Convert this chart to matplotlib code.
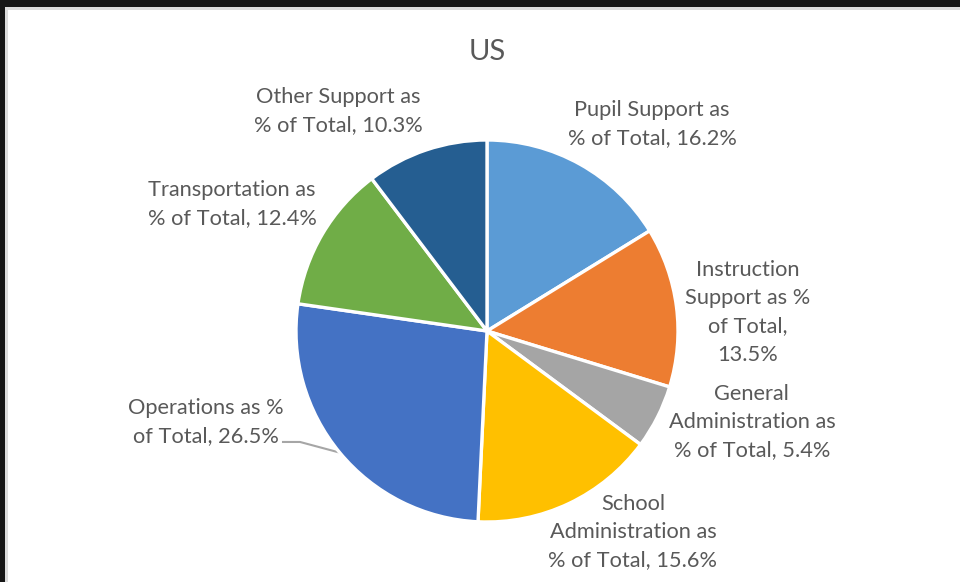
import matplotlib
matplotlib.use("Agg")
import matplotlib.pyplot as plt
from matplotlib.patches import Rectangle
import numpy as np

title = "US"
categories = ["Pupil Support", "Instruction Support", "General Administration",
              "School Administration", "Operations", "Transportation", "Other Support"]
values = [16.2, 13.5, 5.4, 15.6, 26.5, 12.4, 10.3]
label_texts = [
    "Pupil Support as\n% of Total, 16.2%",
    "Instruction\nSupport as %\nof Total,\n13.5%",
    "General\nAdministration as\n% of Total, 5.4%",
    "School\nAdministration as\n% of Total, 15.6%",
    "Operations as %\nof Total, 26.5%",
    "Transportation as\n% of Total, 12.4%",
    "Other Support as\n% of Total, 10.3%",
]
colors = ["#5B9BD5", "#ED7D31", "#A5A5A5", "#FFC000", "#4472C4", "#70AD47", "#255E91"]
# label positions (in units of pie radius, relative to centre)
label_pos = [(0.864, 1.084), (1.366, 0.099), (1.387, -0.476), (0.764, -1.052),
             (-1.471, -0.476), (-1.335, 0.665), (-0.780, 1.152)]

W, H = 960, 582
fig = plt.figure(figsize=(W / 100, H / 100), dpi=100, facecolor="#161616")
plt.rcParams['font.family'] = ['Lato', 'DejaVu Sans']

# white chart panel
fig.patches.append(Rectangle((5 / W, 0), 1, (H - 7) / H, transform=fig.transFigure,
                             facecolor="#dcdcdc", edgecolor="none", zorder=-2))
fig.patches.append(Rectangle((8 / W, 0), 1, (H - 10) / H, transform=fig.transFigure,
                             facecolor="white", edgecolor="none", zorder=-1))

cx, cy, r = 487, 331, 191
ax = fig.add_axes([(cx - r) / W, (H - cy - r) / H, 2 * r / W, 2 * r / H])

wedges, _ = ax.pie(values, colors=colors, startangle=90, counterclock=False,
                   radius=1, wedgeprops=dict(edgecolor="white", linewidth=2.4))
ax.set_xlim(-1, 1)
ax.set_ylim(-1, 1)
ax.axis("off")

txtc = "#595959"
for t, (lx, ly) in zip(label_texts, label_pos):
    ax.text(lx, ly, t, ha="center", va="center", fontsize=15.7, color=txtc,
            linespacing=1.52, clip_on=False)

# leader line for Operations
w = wedges[4]
mid = np.deg2rad((w.theta1 + w.theta2) / 2)
ex, ey = np.cos(mid), np.sin(mid)
ax.plot([-1.068, -0.979, ex], [-0.581, -0.581, ey], color="#a6a6a6", lw=1.5,
        clip_on=False, zorder=0.5)

fig.text(cx / W, 1 - 52 / H, title, ha="center", va="center", fontsize=21, color=txtc)

fig.savefig("out.png", dpi=100, facecolor=fig.get_facecolor())
